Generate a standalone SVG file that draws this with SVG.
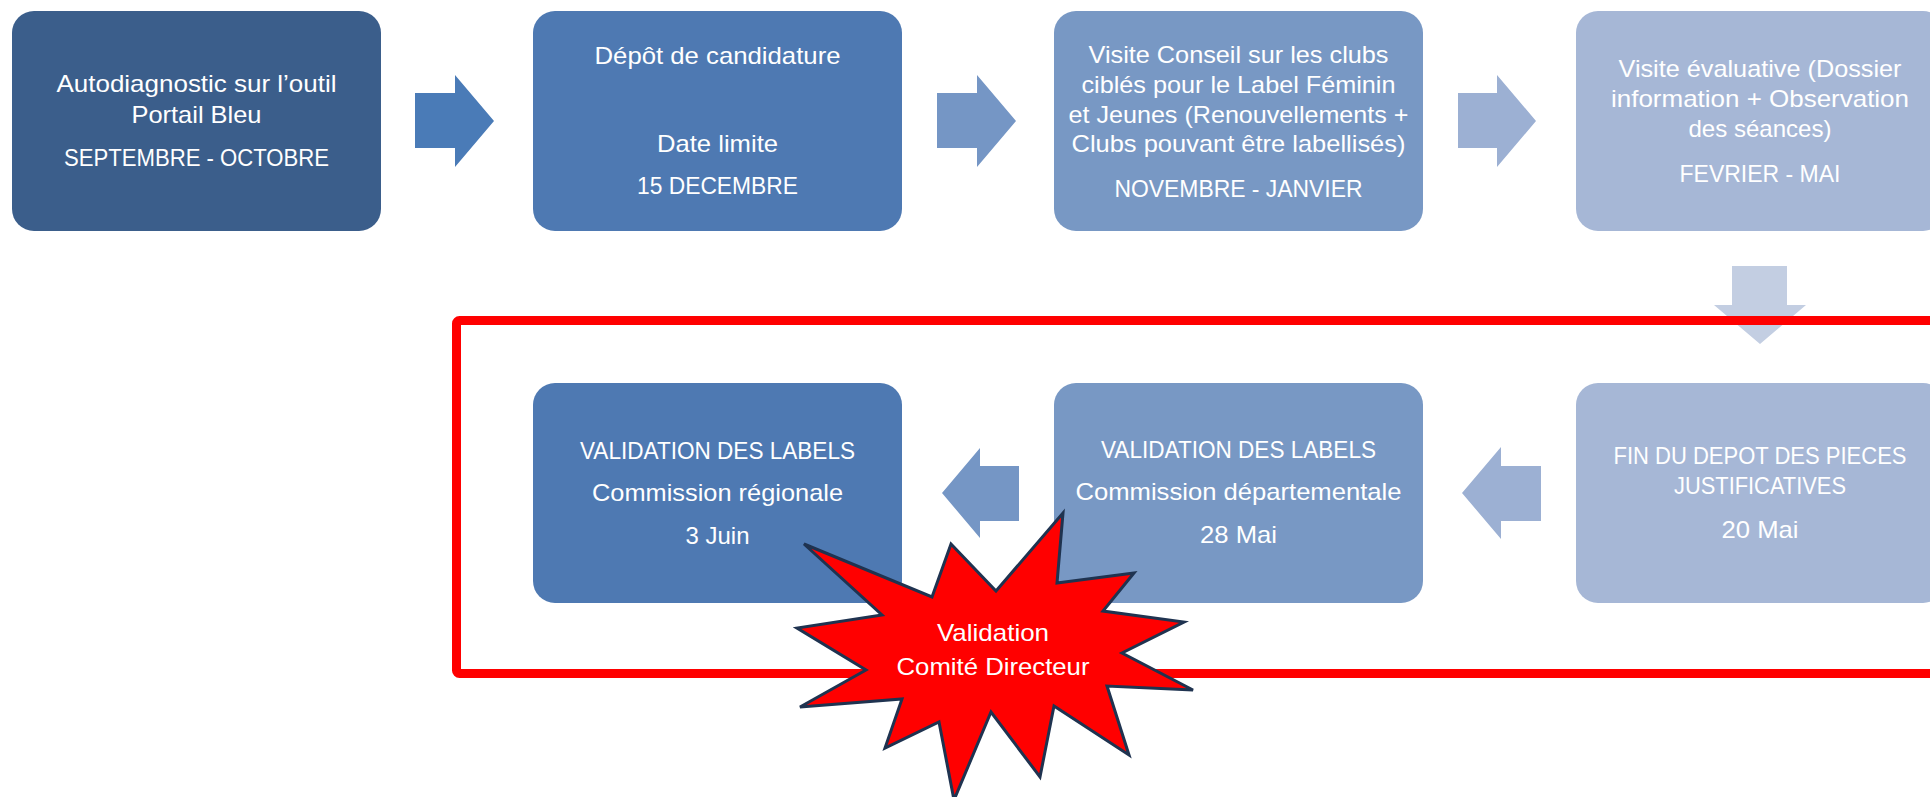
<svg xmlns="http://www.w3.org/2000/svg" width="1930" height="797" viewBox="0 0 1930 797">
<style>
text{font-family:"Liberation Sans",Arial,sans-serif;font-size:24px;fill:#ffffff;text-anchor:middle}
.c1{fill:#3B5E8B}.c2{fill:#4E79B2}.c3{fill:#7898C4}.c4{fill:#A6B7D6}
.a1{fill:#4A7BB7}.a2{fill:#7596C5}.a3{fill:#9CB0D3}.a4{fill:#C3CEE2}
</style>
<rect width="1930" height="797" fill="#ffffff"/>
<g id="connectors">
<polygon class="a1" points="415,93 455,93 455,75 494,121 455,167 455,148 415,148"/>
<polygon class="a2" points="937,93 977,93 977,75 1016,121 977,167 977,148 937,148"/>
<polygon class="a3" points="1458,93 1497,93 1497,75 1536,121 1497,167 1497,148 1458,148"/>
<polygon class="a4" points="1732,266 1787,266 1787,305 1806,305 1760,344 1714,305 1732,305"/>
<polygon class="a2" points="1019,466 980,466 980,448 942,493 980,538 980,521 1019,521"/>
<polygon class="a3" points="1541,466 1501,466 1501,447 1462,493 1501,539 1501,521 1541,521"/>
</g>
<g id="n1"><rect class="c1" x="12" y="11" width="369" height="220" rx="22"/>
<text x="196.5" y="92" textLength="280" lengthAdjust="spacingAndGlyphs">Autodiagnostic sur l’outil</text><text x="196.5" y="123" textLength="130" lengthAdjust="spacingAndGlyphs">Portail Bleu</text><text x="196.5" y="166" textLength="265" lengthAdjust="spacingAndGlyphs">SEPTEMBRE - OCTOBRE</text></g>
<g id="n2"><rect class="c2" x="533" y="11" width="369" height="220" rx="22"/>
<text x="717.5" y="64" textLength="246" lengthAdjust="spacingAndGlyphs">Dépôt de candidature</text><text x="717.5" y="152" textLength="121" lengthAdjust="spacingAndGlyphs">Date limite</text><text x="717.5" y="194" textLength="161" lengthAdjust="spacingAndGlyphs">15 DECEMBRE</text></g>
<g id="n3"><rect class="c3" x="1054" y="11" width="369" height="220" rx="22"/>
<text x="1238.5" y="63" textLength="300" lengthAdjust="spacingAndGlyphs">Visite Conseil sur les clubs</text><text x="1238.5" y="93" textLength="314" lengthAdjust="spacingAndGlyphs">ciblés pour le Label Féminin</text><text x="1238.5" y="123" textLength="340" lengthAdjust="spacingAndGlyphs">et Jeunes (Renouvellements +</text><text x="1238.5" y="152" textLength="334" lengthAdjust="spacingAndGlyphs">Clubs pouvant être labellisés)</text><text x="1238.5" y="197" textLength="248" lengthAdjust="spacingAndGlyphs">NOVEMBRE - JANVIER</text></g>
<g id="n4"><rect class="c4" x="1576" y="11" width="369" height="220" rx="22"/>
<text x="1760" y="77" textLength="283" lengthAdjust="spacingAndGlyphs">Visite évaluative (Dossier</text><text x="1760" y="107" textLength="298" lengthAdjust="spacingAndGlyphs">information + Observation</text><text x="1760" y="137" textLength="143" lengthAdjust="spacingAndGlyphs">des séances)</text><text x="1760" y="182" textLength="161" lengthAdjust="spacingAndGlyphs">FEVRIER - MAI</text></g>
<g id="n5"><rect class="c2" x="533" y="383" width="369" height="220" rx="22"/>
<text x="717.5" y="459" textLength="275" lengthAdjust="spacingAndGlyphs">VALIDATION DES LABELS</text><text x="717.5" y="501" textLength="251" lengthAdjust="spacingAndGlyphs">Commission régionale</text><text x="717.5" y="544" textLength="64" lengthAdjust="spacingAndGlyphs">3 Juin</text></g>
<g id="n6"><rect class="c3" x="1054" y="383" width="369" height="220" rx="22"/>
<text x="1238.5" y="458" textLength="275" lengthAdjust="spacingAndGlyphs">VALIDATION DES LABELS</text><text x="1238.5" y="500" textLength="326" lengthAdjust="spacingAndGlyphs">Commission départementale</text><text x="1238.5" y="543" textLength="77" lengthAdjust="spacingAndGlyphs">28 Mai</text></g>
<g id="n7"><rect class="c4" x="1576" y="383" width="369" height="220" rx="22"/>
<text x="1760" y="464" textLength="293" lengthAdjust="spacingAndGlyphs">FIN DU DEPOT DES PIECES</text><text x="1760" y="494" textLength="172" lengthAdjust="spacingAndGlyphs">JUSTIFICATIVES</text><text x="1760" y="538" textLength="77" lengthAdjust="spacingAndGlyphs">20 Mai</text></g>
<g id="frame"><rect x="456.5" y="320.5" width="1500" height="353" rx="3" fill="none" stroke="#FF0000" stroke-width="9"/></g>
<g id="star">
<polygon points="1063,513 1057,583 1134,573 1103,611 1184,622 1122,653 1193,690 1107,686 1129,755 1054,706 1040,777 991,712 954,800 939,722 885,748 902,699 800,707 866,670 797,628 882,615 804,544 932,597 951,544 996,591" fill="#FF0000" stroke="#1F3350" stroke-width="3" stroke-linejoin="miter"/>
<text x="993" y="641" textLength="112" lengthAdjust="spacingAndGlyphs">Validation</text><text x="993" y="675" textLength="193" lengthAdjust="spacingAndGlyphs">Comité Directeur</text></g>
</svg>
